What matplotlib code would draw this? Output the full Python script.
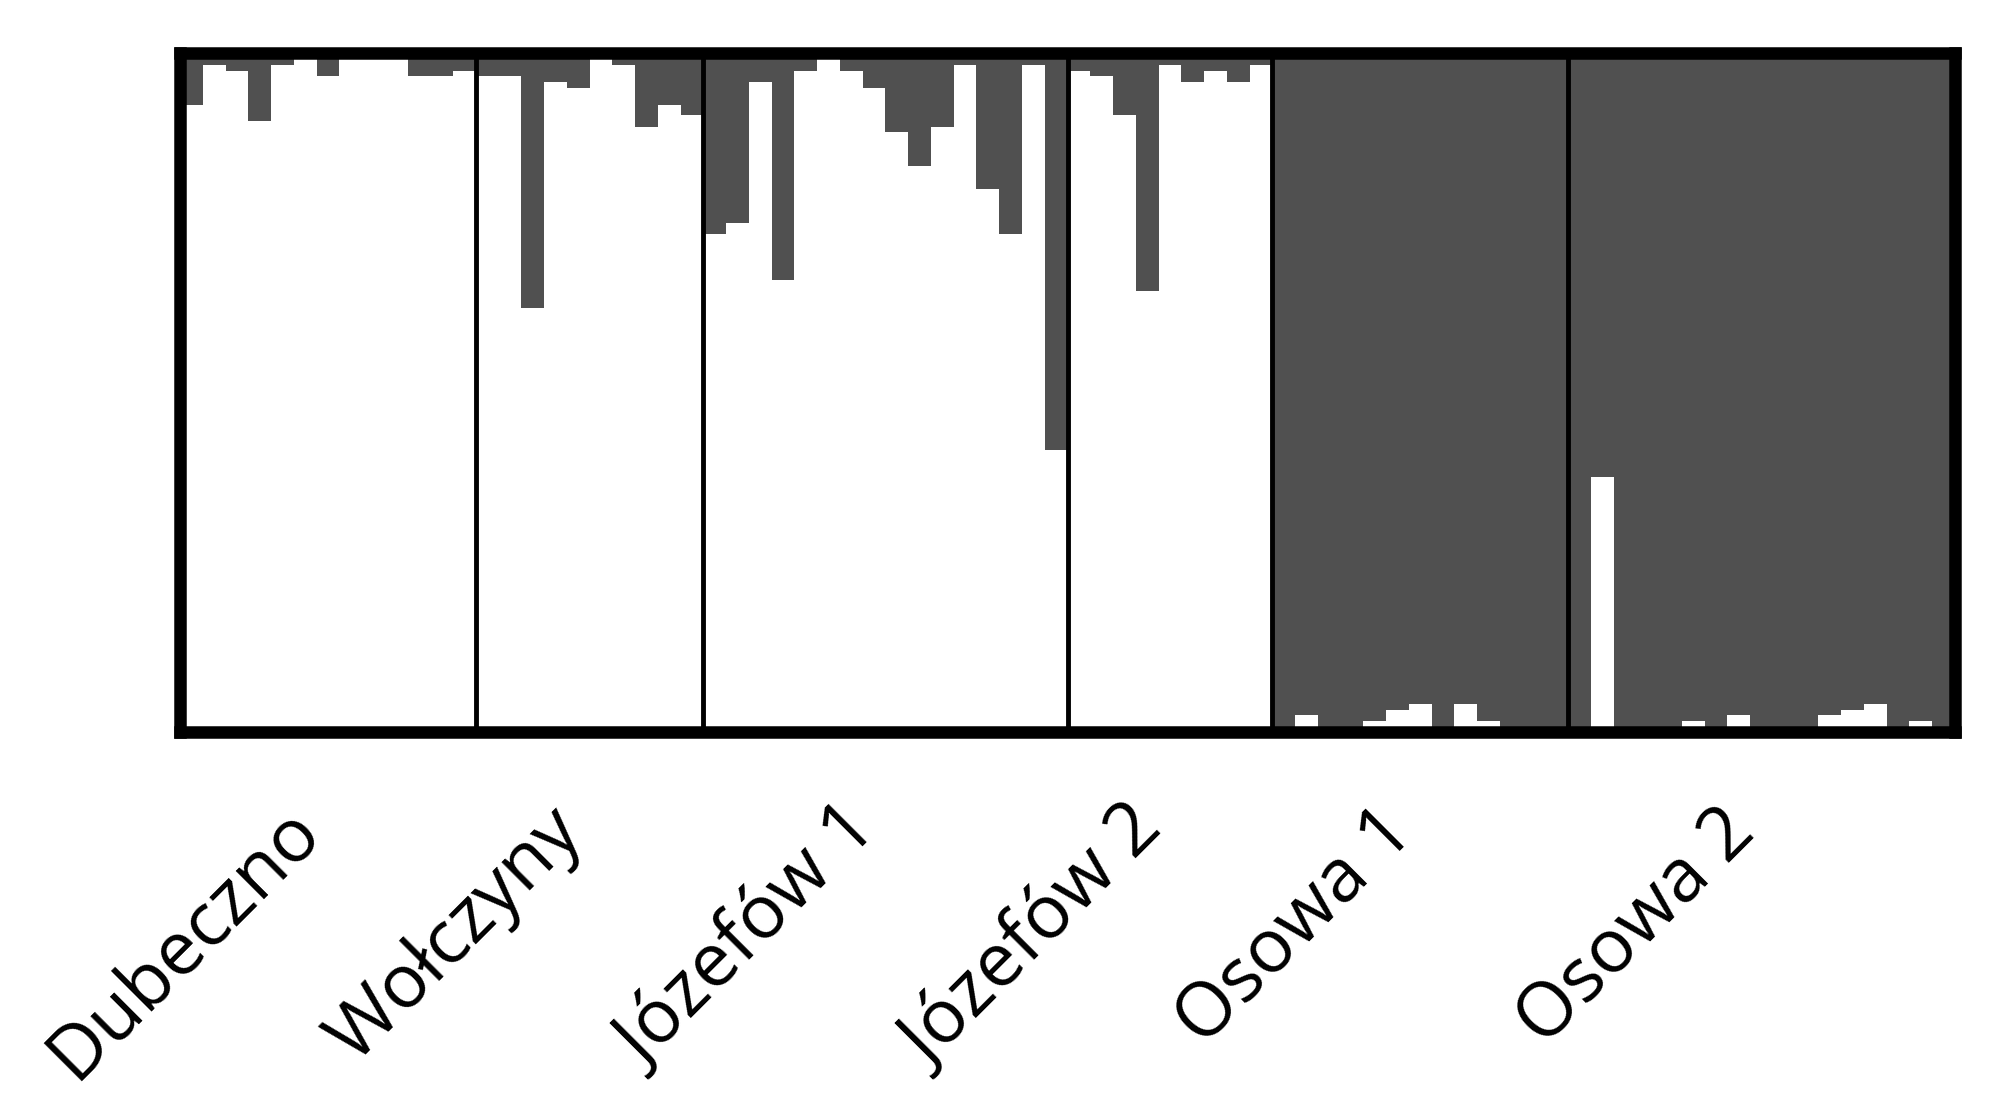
import numpy as np
import matplotlib.pyplot as plt

# dark-cluster membership per individual
dubeczno = [0.076, 0.017, 0.026, 0.10, 0.017, 0.009, 0.034, 0.009, 0.009, 0.009, 0.034, 0.034, 0.026]
wolczyny = [0.034, 0.034, 0.375, 0.042, 0.051, 0.009, 0.017, 0.109, 0.076, 0.092]
jozefow1 = [0.267, 0.25, 0.043, 0.334, 0.026, 0.009, 0.026, 0.051, 0.117, 0.167,
            0.109, 0.017, 0.20, 0.267, 0.017, 0.584]
jozefow2 = [0.026, 0.034, 0.092, 0.35, 0.017, 0.042, 0.026, 0.042, 0.017]
osowa1 = [0.992, 0.975, 0.992, 0.992, 0.984, 0.967, 0.959, 0.992, 0.959, 0.984,
          0.992, 0.992, 0.992]
osowa2 = [0.992, 0.625, 0.992, 0.992, 0.992, 0.984, 0.992, 0.975, 0.992, 0.992,
          0.992, 0.975, 0.967, 0.959, 0.992, 0.984, 0.992]

groups = ["Dubeczno", "Wołczyny", "Józefów 1", "Józefów 2", "Osowa 1", "Osowa 2"]
values = [dubeczno, wolczyny, jozefow1, jozefow2, osowa1, osowa2]

dark = np.concatenate(values)
light = 1 - dark
x = np.arange(len(dark))

fig = plt.figure(figsize=(19.91, 11.13), dpi=100)
ax = fig.add_axes([180 / 1991, 1 - 732 / 1113, 1775 / 1991, 679 / 1113])

ax.bar(x, light, width=1.0, color='white', align='edge')
ax.bar(x, dark, bottom=light, width=1.0, color='#505050', align='edge')

ax.set_xlim(0, len(dark))
ax.set_ylim(0, 1)

# group separators and labels
start = 0
for name, v in zip(groups, values):
    end = start + len(v)
    if end < len(dark):
        ax.axvline(end, color='black', lw=3.5)
    ax.text(start + len(v) / 2 - 0.8, -0.13, name, rotation=45, rotation_mode='anchor',
            ha='right', va='center', fontsize=54, family='Open Sans')
    start = end

for s in ax.spines.values():
    s.set_linewidth(9)
ax.set_xticks([])
ax.set_yticks([])

fig.savefig('out.png', dpi=100)
